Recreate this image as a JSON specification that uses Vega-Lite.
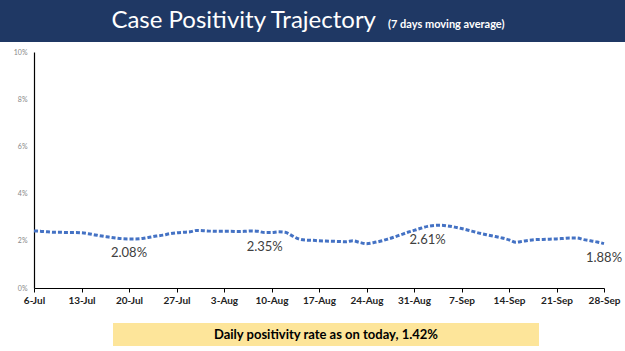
{
  "$schema": "https://vega.github.io/schema/vega-lite/v6.json",
  "padding": {"left": 0, "right": 0, "top": 0, "bottom": 5},
  "background": "white",
  "config": {"view": {"stroke": null}, "font": "Lato"},
  "bounds": "flush",
  "spacing": 10,
  "vconcat": [
    {
      "width": 625,
      "height": 42,
      "view": {"fill": "#1f3864", "stroke": null},
      "data": {"values": [{"title": "Case Positivity Trajectory", "sub": "(7 days moving average)"}]},
      "layer": [
        {
          "mark": {"type": "text", "align": "right", "baseline": "alphabetic", "dx": 63.5, "dy": 7, "fontSize": 24, "color": "white", "font": "Lato"},
          "encoding": {"text": {"field": "title"}}
        },
        {
          "mark": {"type": "text", "align": "left", "baseline": "alphabetic", "dx": 75.5, "dy": 7, "fontSize": 11, "fontWeight": "bold", "color": "white", "font": "Lato"},
          "encoding": {"text": {"field": "sub"}}
        }
      ]
    },
    {
      "bounds": "flush",
      "spacing": 0,
      "hconcat": [
        {
          "width": 34,
          "height": 1,
          "data": {"values": []},
          "mark": "point"
        },
        {
          "bounds": "flush",
          "spacing": 35,
          "vconcat": [
            {
              "width": 570,
              "height": 236,
              "data": {"values": [
                {"date": "2020-07-06", "rate": 2.42},
                {"date": "2020-07-07", "rate": 2.40},
                {"date": "2020-07-08", "rate": 2.38},
                {"date": "2020-07-09", "rate": 2.36},
                {"date": "2020-07-10", "rate": 2.36},
                {"date": "2020-07-11", "rate": 2.35},
                {"date": "2020-07-12", "rate": 2.35},
                {"date": "2020-07-13", "rate": 2.34},
                {"date": "2020-07-14", "rate": 2.30},
                {"date": "2020-07-15", "rate": 2.25},
                {"date": "2020-07-16", "rate": 2.20},
                {"date": "2020-07-17", "rate": 2.16},
                {"date": "2020-07-18", "rate": 2.12},
                {"date": "2020-07-19", "rate": 2.09},
                {"date": "2020-07-20", "rate": 2.08, "label": "2.08%"},
                {"date": "2020-07-21", "rate": 2.08},
                {"date": "2020-07-22", "rate": 2.10},
                {"date": "2020-07-23", "rate": 2.15},
                {"date": "2020-07-24", "rate": 2.20},
                {"date": "2020-07-25", "rate": 2.24},
                {"date": "2020-07-26", "rate": 2.30},
                {"date": "2020-07-27", "rate": 2.34},
                {"date": "2020-07-28", "rate": 2.36},
                {"date": "2020-07-29", "rate": 2.38},
                {"date": "2020-07-30", "rate": 2.44},
                {"date": "2020-07-31", "rate": 2.43},
                {"date": "2020-08-01", "rate": 2.41},
                {"date": "2020-08-02", "rate": 2.40},
                {"date": "2020-08-03", "rate": 2.40},
                {"date": "2020-08-04", "rate": 2.40},
                {"date": "2020-08-05", "rate": 2.39},
                {"date": "2020-08-06", "rate": 2.40},
                {"date": "2020-08-07", "rate": 2.42},
                {"date": "2020-08-08", "rate": 2.40},
                {"date": "2020-08-09", "rate": 2.35, "label": "2.35%"},
                {"date": "2020-08-10", "rate": 2.35},
                {"date": "2020-08-11", "rate": 2.38},
                {"date": "2020-08-12", "rate": 2.36},
                {"date": "2020-08-13", "rate": 2.22},
                {"date": "2020-08-14", "rate": 2.08},
                {"date": "2020-08-15", "rate": 2.03},
                {"date": "2020-08-16", "rate": 2.02},
                {"date": "2020-08-17", "rate": 2.00},
                {"date": "2020-08-18", "rate": 1.99},
                {"date": "2020-08-19", "rate": 1.98},
                {"date": "2020-08-20", "rate": 1.97},
                {"date": "2020-08-21", "rate": 1.96},
                {"date": "2020-08-22", "rate": 2.00},
                {"date": "2020-08-23", "rate": 1.93},
                {"date": "2020-08-24", "rate": 1.88},
                {"date": "2020-08-25", "rate": 1.92},
                {"date": "2020-08-26", "rate": 1.98},
                {"date": "2020-08-27", "rate": 2.06},
                {"date": "2020-08-28", "rate": 2.15},
                {"date": "2020-08-29", "rate": 2.25},
                {"date": "2020-08-30", "rate": 2.35},
                {"date": "2020-08-31", "rate": 2.44},
                {"date": "2020-09-01", "rate": 2.53},
                {"date": "2020-09-02", "rate": 2.61, "label": "2.61%"},
                {"date": "2020-09-03", "rate": 2.65},
                {"date": "2020-09-04", "rate": 2.66},
                {"date": "2020-09-05", "rate": 2.63},
                {"date": "2020-09-06", "rate": 2.58},
                {"date": "2020-09-07", "rate": 2.52},
                {"date": "2020-09-08", "rate": 2.45},
                {"date": "2020-09-09", "rate": 2.37},
                {"date": "2020-09-10", "rate": 2.30},
                {"date": "2020-09-11", "rate": 2.24},
                {"date": "2020-09-12", "rate": 2.18},
                {"date": "2020-09-13", "rate": 2.12},
                {"date": "2020-09-14", "rate": 2.04},
                {"date": "2020-09-15", "rate": 1.94},
                {"date": "2020-09-16", "rate": 1.98},
                {"date": "2020-09-17", "rate": 2.02},
                {"date": "2020-09-18", "rate": 2.05},
                {"date": "2020-09-19", "rate": 2.06},
                {"date": "2020-09-20", "rate": 2.07},
                {"date": "2020-09-21", "rate": 2.08},
                {"date": "2020-09-22", "rate": 2.10},
                {"date": "2020-09-23", "rate": 2.12},
                {"date": "2020-09-24", "rate": 2.12},
                {"date": "2020-09-25", "rate": 2.05},
                {"date": "2020-09-26", "rate": 2.00},
                {"date": "2020-09-27", "rate": 1.95},
                {"date": "2020-09-28", "rate": 1.88, "label": "1.88%"}
              ]},
              "encoding": {
                "x": {
                  "field": "date",
                  "type": "temporal",
                  "scale": {"type": "utc", "nice": false, "domain": [
                    {"year": 2020, "month": 7, "date": 6, "utc": true},
                    {"year": 2020, "month": 9, "date": 28, "utc": true}
                  ]},
                  "axis": {
                    "title": null,
                    "grid": false,
                    "format": "%-d-%b",
                    "values": [
                      {"year": 2020, "month": 7, "date": 6, "utc": true},
                      {"year": 2020, "month": 7, "date": 13, "utc": true},
                      {"year": 2020, "month": 7, "date": 20, "utc": true},
                      {"year": 2020, "month": 7, "date": 27, "utc": true},
                      {"year": 2020, "month": 8, "date": 3, "utc": true},
                      {"year": 2020, "month": 8, "date": 10, "utc": true},
                      {"year": 2020, "month": 8, "date": 17, "utc": true},
                      {"year": 2020, "month": 8, "date": 24, "utc": true},
                      {"year": 2020, "month": 8, "date": 31, "utc": true},
                      {"year": 2020, "month": 9, "date": 7, "utc": true},
                      {"year": 2020, "month": 9, "date": 14, "utc": true},
                      {"year": 2020, "month": 9, "date": 21, "utc": true},
                      {"year": 2020, "month": 9, "date": 28, "utc": true}
                    ],
                    "domainColor": "#000000",
                    "domainWidth": 1.2,
                    "tickColor": "#000000",
                    "tickSize": 4,
                    "labelFont": "Lato",
                    "labelFontSize": 10,
                    "labelFontWeight": "bold",
                    "labelColor": "#222222",
                    "labelPadding": 3,
                    "labelFlush": false,
                    "labelOverlap": false
                  }
                },
                "y": {
                  "field": "rate",
                  "type": "quantitative",
                  "scale": {"domain": [0, 10], "nice": false},
                  "axis": {
                    "title": null,
                    "grid": false,
                    "values": [0, 2, 4, 6, 8, 10],
                    "labelExpr": "datum.value + '%'",
                    "ticks": false,
                    "domainColor": "#000000",
                    "domainWidth": 1.2,
                    "labelFontSize": 7,
                    "labelColor": "#888888",
                    "labelPadding": 7,
                    "labelFlush": false
                  }
                }
              },
              "layer": [
                {
                  "mark": {"type": "line", "color": "#4472c4", "strokeWidth": 3, "strokeDash": [4, 2], "interpolate": "monotone"}
                },
                {
                  "transform": [{"filter": "datum.label"}],
                  "mark": {"type": "text", "dy": 14, "fontSize": 13, "color": "#404040", "font": "Lato"},
                  "encoding": {"text": {"field": "label"}}
                },
                {
                  "data": {"values": [{}]},
                  "mark": {"type": "point", "shape": "triangle-up", "filled": true, "color": "#000000", "size": 18, "opacity": 1},
                  "encoding": {
                    "x": {"datum": {"year": 2020, "month": 7, "date": 6, "utc": true}, "type": "temporal"},
                    "y": {"datum": 10, "type": "quantitative"}
                  }
                }
              ]
            },
            {
              "bounds": "flush",
              "spacing": 0,
              "hconcat": [
                {
                  "width": 79,
                  "height": 1,
                  "data": {"values": []},
                  "mark": "point"
                },
                {
                  "width": 426,
                  "height": 23,
                  "view": {"fill": "#fde59a", "stroke": null},
                  "data": {"values": [{"t": "Daily positivity rate as on today, 1.42%"}]},
                  "mark": {"type": "text", "fontSize": 13, "fontWeight": "bold", "color": "#000000", "font": "Lato"},
                  "encoding": {"text": {"field": "t"}}
                }
              ]
            }
          ]
        }
      ]
    }
  ]
}
